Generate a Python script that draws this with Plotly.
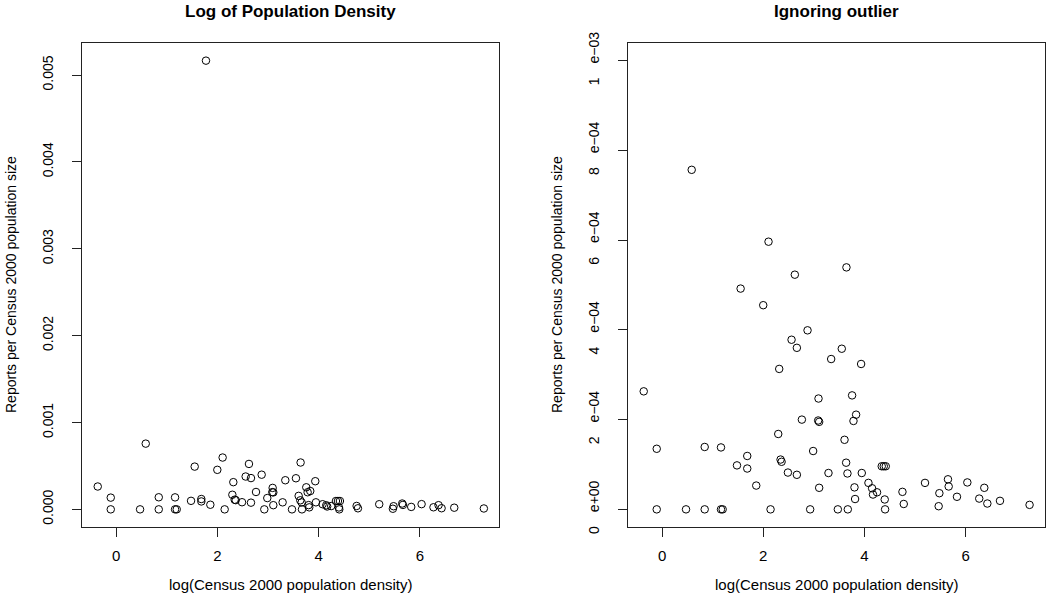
import plotly.graph_objects as go

# log(Census 2000 population density)
log_density = [
    2.105, 3.645, 2.625, 1.553, 2.000, 2.876, 2.560, 2.665, 3.553, 3.343,
    3.935, 2.316, -0.362, 3.093, 3.757, 3.836, 2.764, 3.086, 3.106, 3.784,
    2.297, 3.607, -0.105, 0.843, 1.165, 2.987, 1.684, 2.343, 2.363, 3.639,
    1.481, 1.684, 4.343, 4.383, 4.422, 2.488, 2.665, 3.290, 3.665, 3.948,
    1.862, 3.106, 3.804, 4.080, 4.152, 4.250, 4.170, 3.816, 4.402, 4.752,
    4.778, 5.198, 5.652, 5.482, 5.666, 5.830, 5.468, 6.035, 6.370, 6.270,
    6.430, 6.680, 7.265,
    -0.105, 0.474, 0.843, 1.165, 1.198, 2.145, 2.928, 3.475, 3.672, 4.409,
    0.586, 1.776,
]
# Reports per Census 2000 population size
reports_rate = [
    5.965e-4, 5.393e-4, 5.23e-4, 4.92e-4, 4.55e-4, 3.99e-4, 3.78e-4, 3.60e-4, 3.58e-4, 3.35e-4,
    3.24e-4, 3.13e-4, 2.63e-4, 2.47e-4, 2.54e-4, 2.11e-4, 2.00e-4, 1.98e-4, 1.95e-4, 1.97e-4,
    1.68e-4, 1.55e-4, 1.35e-4, 1.39e-4, 1.38e-4, 1.30e-4, 1.19e-4, 1.11e-4, 1.06e-4, 1.04e-4,
    0.98e-4, 0.91e-4, 0.96e-4, 0.96e-4, 0.96e-4, 0.82e-4, 0.77e-4, 0.81e-4, 0.80e-4, 0.81e-4,
    0.53e-4, 0.48e-4, 0.49e-4, 0.59e-4, 0.47e-4, 0.38e-4, 0.33e-4, 0.23e-4, 0.22e-4, 0.39e-4,
    0.12e-4, 0.59e-4, 0.67e-4, 0.36e-4, 0.51e-4, 0.28e-4, 0.07e-4, 0.60e-4, 0.48e-4, 0.24e-4,
    0.13e-4, 0.19e-4, 0.10e-4,
    0, 0, 0, 0, 0, 0, 0, 0, 0, 0,
    7.567e-4, 5.166e-3,
]

left_title = "Log of Population Density"
right_title = "Ignoring outlier"
x_label = "log(Census 2000 population density)"
y_label = "Reports per Census 2000 population size"

x_ticks = [0, 2, 4, 6]
left_y_ticks = [0, 0.001, 0.002, 0.003, 0.004, 0.005]
left_y_ticktext = ["0.000", "0.001", "0.002", "0.003", "0.004", "0.005"]
right_y_ticks = [0, 2e-4, 4e-4, 6e-4, 8e-4, 1e-3]
right_y_ticktext = ["0\u2003e+00", "2\u2003e\u221204", "4\u2003e\u221204",
                    "6\u2003e\u221204", "8\u2003e\u221204", "1\u2003e\u221203"]
right_ylim = [0, 0.001]

W, H = 1050, 593
FONT = "Liberation Sans, Arial, Helvetica, sans-serif"


def padded(lo, hi):
    s = hi - lo
    return [lo - 0.04 * s, hi + 0.04 * s]


xr = padded(min(log_density), max(log_density))
yl = padded(min(reports_rate), max(reports_rate))
yr = padded(*right_ylim)

marker = dict(symbol="circle-open", size=7.5, color="black", line=dict(width=1, color="black"))

fig = go.Figure()
fig.add_trace(go.Scatter(x=log_density, y=reports_rate, mode="markers", marker=marker,
                         xaxis="x", yaxis="y", showlegend=False))
fig.add_trace(go.Scatter(x=log_density, y=reports_rate, mode="markers", marker=marker,
                         xaxis="x2", yaxis="y2", showlegend=False))

ybot, ytop = 527.3, 42.7
ydom = [1 - ybot / H, 1 - ytop / H]
ldom = [82.3 / W, 499.3 / W]
rdom = [628.3 / W, 1045.0 / W]

axis_common = dict(showline=True, mirror=True, linecolor="#222", linewidth=1,
                   showgrid=False, zeroline=False, ticks="outside", ticklen=9,
                   tickcolor="#222", tickwidth=1, automargin=False)

fig.update_layout(
    template="none",
    width=W, height=H, autosize=False,
    margin=dict(l=0, r=0, t=0, b=0, pad=0, autoexpand=False),
    paper_bgcolor="white", plot_bgcolor="white",
    font=dict(family=FONT, color="black"),
    xaxis=dict(domain=ldom, range=xr, tickvals=x_ticks, anchor="y",
               tickfont=dict(size=15), ticklabelstandoff=6, **axis_common),
    yaxis=dict(domain=ydom, range=yl, tickvals=left_y_ticks, ticktext=left_y_ticktext,
               tickangle=-90, anchor="x", tickfont=dict(size=14), ticklabelstandoff=14,
               **axis_common),
    xaxis2=dict(domain=rdom, range=xr, tickvals=x_ticks, anchor="y2",
                tickfont=dict(size=15), ticklabelstandoff=6, **axis_common),
    yaxis2=dict(domain=ydom, range=yr, tickvals=right_y_ticks, ticktext=right_y_ticktext,
                tickangle=-90, anchor="x2", tickfont=dict(size=14), ticklabelstandoff=14,
                **axis_common),
)

ann = []
for dom, title, ytx in [(ldom, left_title, 11), (rdom, right_title, 557)]:
    cx = (dom[0] + dom[1]) / 2
    ann.append(dict(text="<b>%s</b>" % title, x=cx, y=1 - 12 / H, xref="paper", yref="paper",
                    xanchor="center", yanchor="middle", showarrow=False,
                    font=dict(size=17, family=FONT)))
    ann.append(dict(text=x_label, x=cx, y=1 - 584 / H, xref="paper", yref="paper",
                    xanchor="center", yanchor="middle", showarrow=False,
                    font=dict(size=15, family=FONT)))
    ann.append(dict(text=y_label, x=ytx / W, y=(ydom[0] + ydom[1]) / 2, xref="paper",
                    yref="paper", xanchor="center", yanchor="middle", textangle=-90,
                    showarrow=False, font=dict(size=14, family=FONT)))
fig.update_layout(annotations=ann)

page_fix = (
    "document.documentElement.style.margin='0';"
    "document.documentElement.style.overflow='hidden';"
    "document.body.style.margin='0';"
    "document.body.style.overflow='hidden';"
)

fig.write_html("out.html", config={"displayModeBar": False}, post_script=page_fix)
